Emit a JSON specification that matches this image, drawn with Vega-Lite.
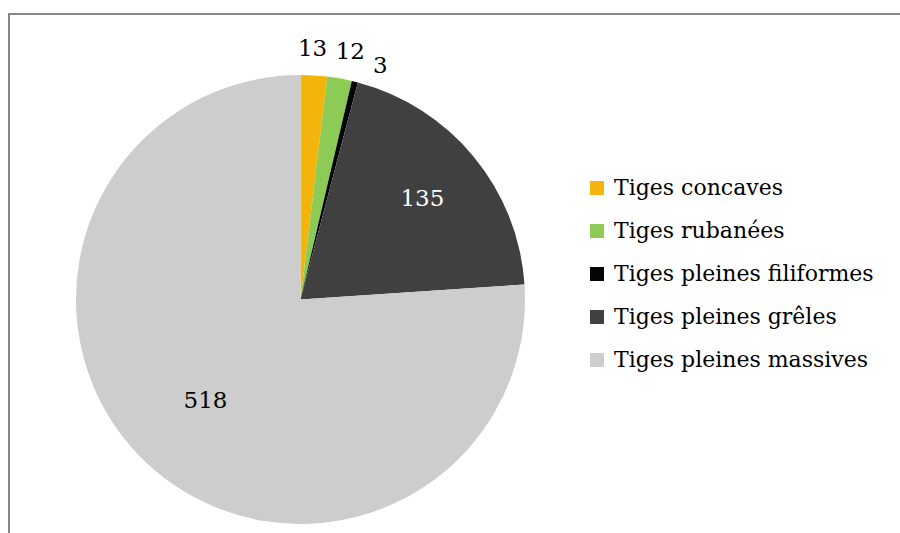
{
  "$schema": "https://vega.github.io/schema/vega-lite/v6.json",
  "width": 900,
  "height": 533,
  "autosize": {"type": "fit", "contains": "padding"},
  "padding": {"left": 9, "top": 14, "right": -8, "bottom": -8},
  "background": "white",
  "view": {"stroke": "#888888", "strokeWidth": 2, "fill": "white"},
  "config": {
    "view": {"stroke": "#888888", "strokeWidth": 2},
    "font": "DejaVu Serif"
  },
  "data": {
    "values": [
      {"category": "Tiges concaves", "value": 13, "rank": 1},
      {"category": "Tiges rubanées", "value": 12, "rank": 2},
      {"category": "Tiges pleines filiformes", "value": 3, "rank": 3},
      {"category": "Tiges pleines grêles", "value": 135, "rank": 4},
      {"category": "Tiges pleines massives", "value": 518, "rank": 5}
    ]
  },
  "encoding": {
    "theta": {"field": "value", "type": "quantitative", "stack": true},
    "order": {"field": "rank", "type": "quantitative"}
  },
  "layer": [
    {
      "mark": {"type": "arc", "outerRadius": 224.5, "x": 291.5, "y": 285.5},
      "encoding": {
        "color": {
          "field": "category",
          "type": "nominal",
          "scale": {
            "domain": ["Tiges concaves", "Tiges rubanées", "Tiges pleines filiformes", "Tiges pleines grêles", "Tiges pleines massives"],
            "range": ["#F3B50C", "#8DCB57", "#050505", "#404040", "#CDCDCD"]
          },
          "legend": {
            "orient": "none",
            "legendX": 577,
            "legendY": 163,
            "title": null,
            "symbolType": "square",
            "symbolSize": 196,
            "symbolStrokeWidth": 0,
            "labelFont": "DejaVu Serif",
            "labelFontSize": 22,
            "labelColor": "#000000",
            "labelOffset": 6,
            "rowPadding": 21,
            "padding": 0,
            "labelLimit": 400
          }
        }
      }
    },
    {
      "mark": {"type": "text", "radius": 158, "x": 291.5, "y": 285.5, "fontSize": 23, "color": "white"},
      "encoding": {
        "text": {"condition": {"test": "datum.rank === 4", "field": "value", "type": "quantitative"}, "value": ""}
      }
    },
    {
      "mark": {"type": "text", "radius": 139, "x": 291.5, "y": 285.5, "fontSize": 23, "color": "black"},
      "encoding": {
        "text": {"condition": {"test": "datum.rank === 5", "field": "value", "type": "quantitative"}, "value": ""}
      }
    },
    {
      "mark": {"type": "text", "radius": 251, "x": 291.5, "y": 285.5, "dx": -3, "fontSize": 23, "color": "black"},
      "encoding": {
        "text": {"condition": {"test": "datum.rank === 1", "field": "value", "type": "quantitative"}, "value": ""}
      }
    },
    {
      "mark": {"type": "text", "radius": 251, "x": 291.5, "y": 285.5, "dx": 6, "fontSize": 23, "color": "black"},
      "encoding": {
        "text": {"condition": {"test": "datum.rank === 2", "field": "value", "type": "quantitative"}, "value": ""}
      }
    },
    {
      "mark": {"type": "text", "radius": 243, "x": 291.5, "y": 285.5, "dx": 21, "dy": 2, "fontSize": 23, "color": "black"},
      "encoding": {
        "text": {"condition": {"test": "datum.rank === 3", "field": "value", "type": "quantitative"}, "value": ""}
      }
    }
  ]
}
